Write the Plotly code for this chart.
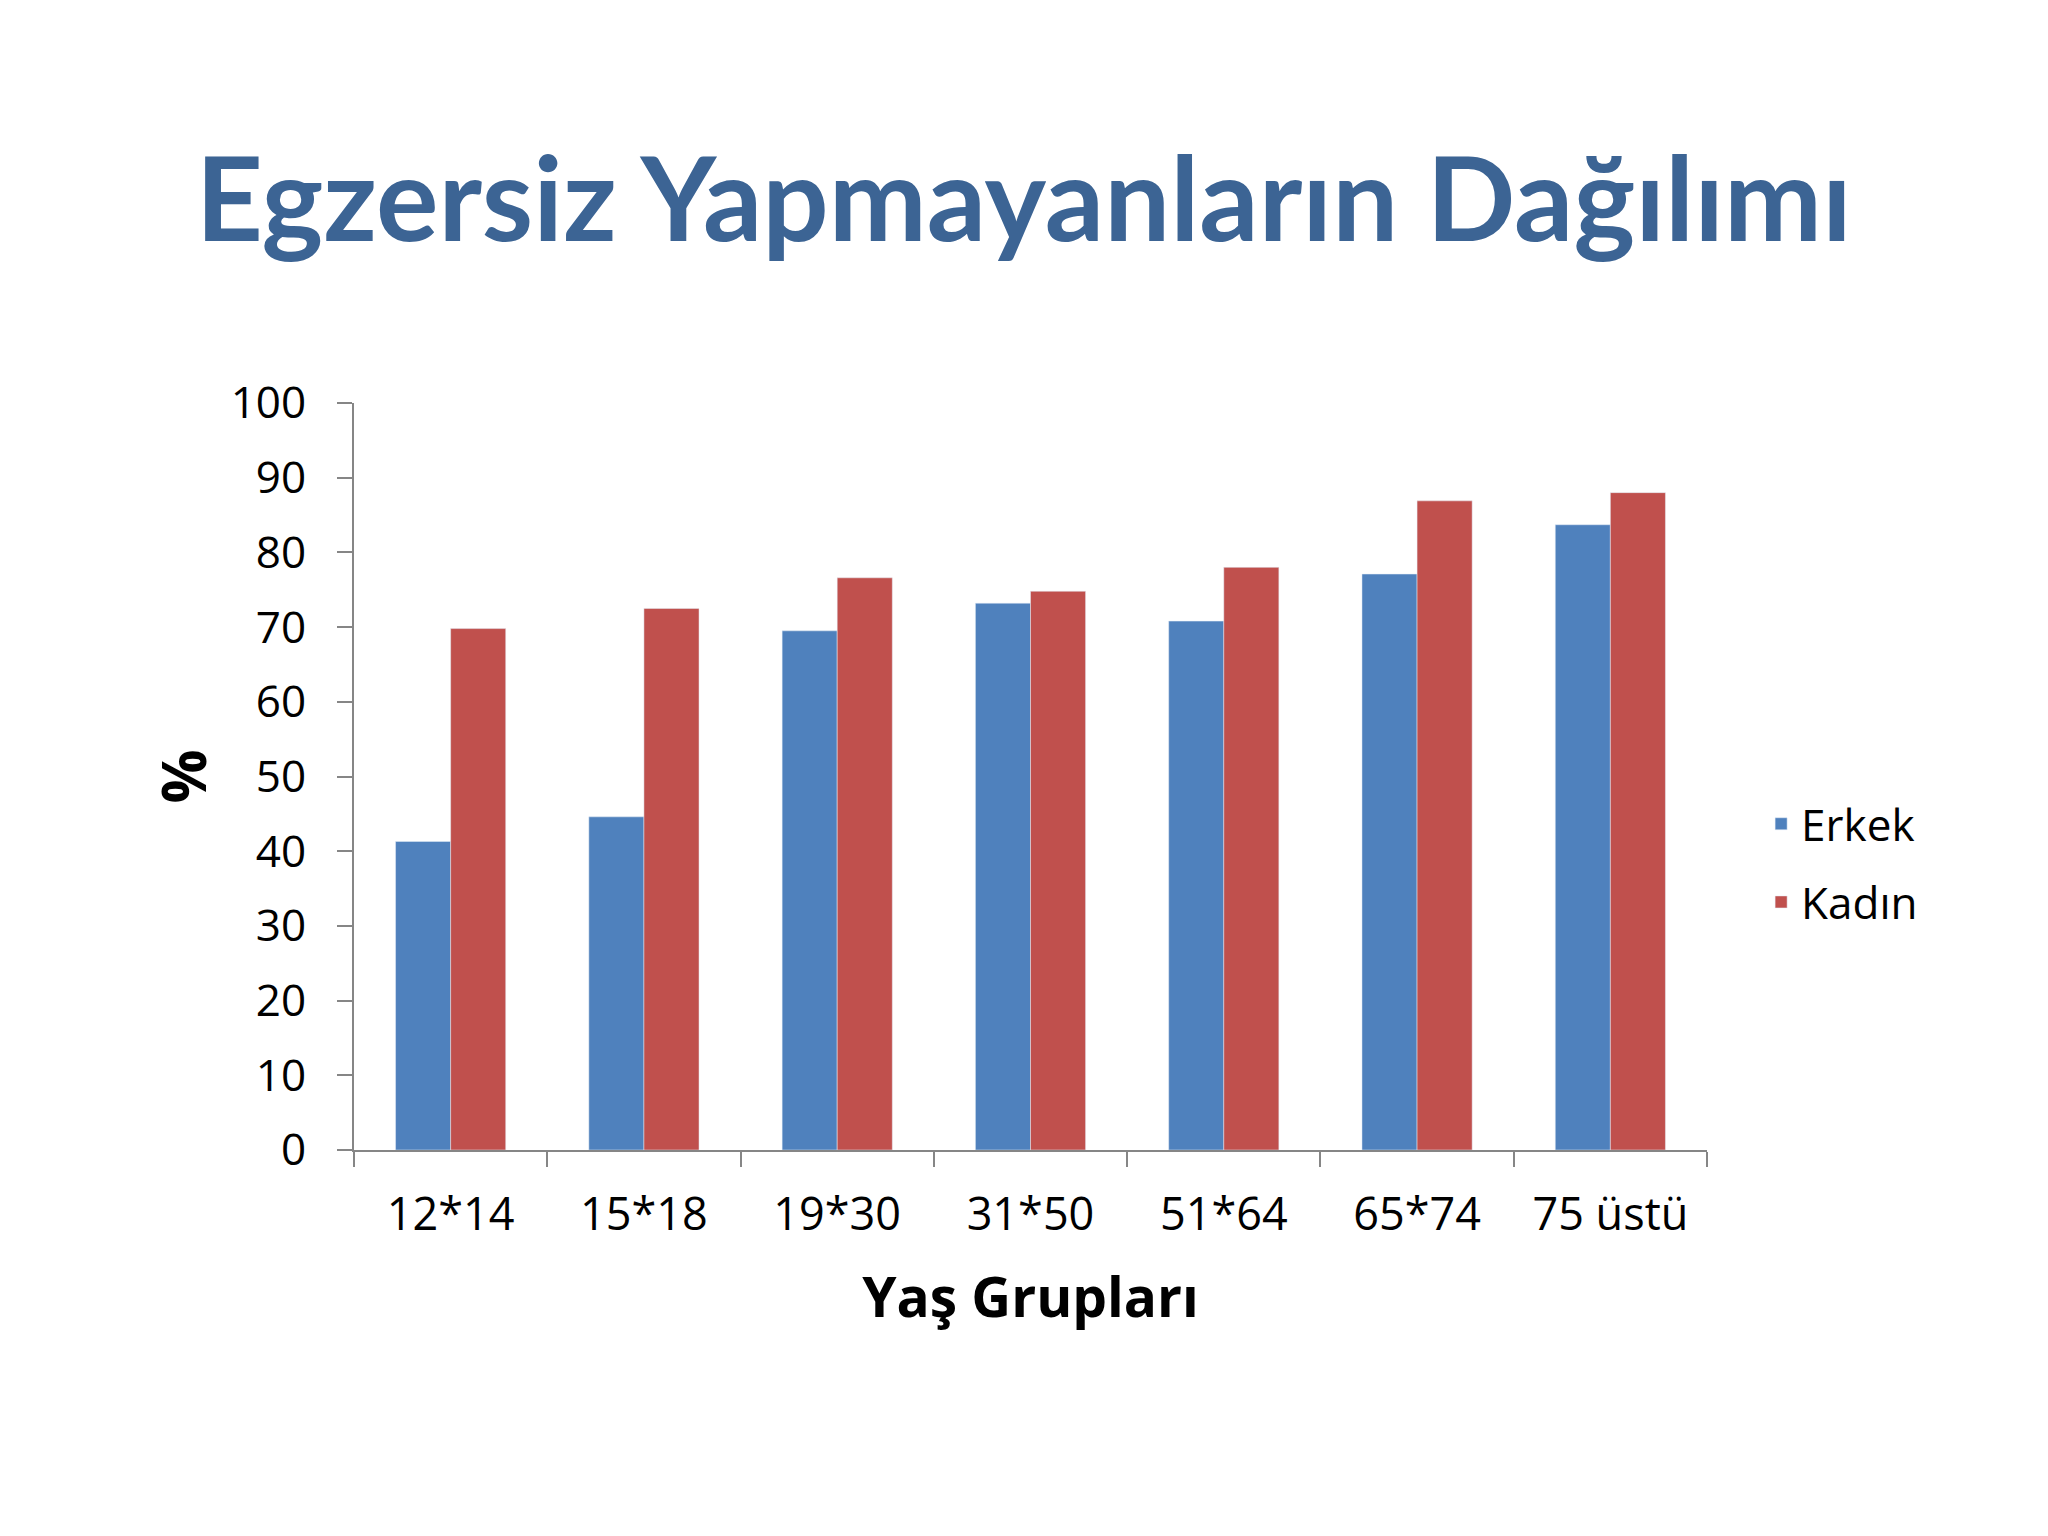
import plotly.graph_objects as go

# age groups and percentages of people who do not exercise
yas_gruplari = ["12*14", "15*18", "19*30", "31*50", "51*64", "65*74", "75 üstü"]
erkek = [41.3, 44.6, 69.5, 73.2, 70.8, 77.1, 83.7]
kadin = [69.8, 72.5, 76.6, 74.8, 78.0, 86.9, 88.0]
y_ticks = [0, 10, 20, 30, 40, 50, 60, 70, 80, 90, 100]

FONT = "Open Sans"

fig = go.Figure()

fig.add_trace(
    go.Bar(
        x=yas_gruplari,
        y=erkek,
        name="Erkek",
        marker_color="#4F81BD",
        legendgroup="erkek",
    )
)
fig.add_trace(
    go.Bar(
        x=yas_gruplari,
        y=kadin,
        name="Kadın",
        marker_color="#C0504D",
        legendgroup="kadin",
    )
)

fig.update_layout(
    width=2048,
    height=1536,
    paper_bgcolor="#FFFFFF",
    plot_bgcolor="#FFFFFF",
    barmode="group",
    bargap=0.43,
    bargroupgap=0,
    margin=dict(l=346, r=349, t=395, b=394, autoexpand=False),
    title=dict(
        text="<b>Egzersiz Yapmayanların Dağılımı</b>",
        x=0.496,
        xanchor="center",
        yref="container",
        y=1 - 192 / 1536,
        yanchor="middle",
        font=dict(family="Lato", size=117, color="#3C6494"),
    ),
    xaxis=dict(
        type="category",
        showline=True,
        linecolor="#868686",
        linewidth=2,
        ticks="outside",
        tickson="boundaries",
        ticklen=15,
        tickwidth=2,
        tickcolor="#868686",
        ticklabelstandoff=24,
        tickfont=dict(family=FONT, size=45, color="#000000"),
        showgrid=False,
        title=dict(
            text="<b>Yaş Grupları</b>",
            font=dict(family=FONT, size=55, color="#000000"),
            standoff=36,
        ),
    ),
    yaxis=dict(
        range=[0, 100],
        tickvals=y_ticks,
        showline=True,
        linecolor="#868686",
        linewidth=2,
        ticks="outside",
        ticklen=15,
        tickwidth=2,
        tickcolor="#868686",
        ticklabelstandoff=22,
        tickfont=dict(family=FONT, size=44, color="#000000"),
        showgrid=False,
        zeroline=False,
        title=dict(
            text="<b>%</b>",
            font=dict(family=FONT, size=60, color="#000000"),
            standoff=5,
        ),
    ),
    legend=dict(
        x=1.04,
        xanchor="left",
        y=0.384,
        yanchor="middle",
        font=dict(family=FONT, size=44, color="#000000"),
        tracegroupgap=18,
        traceorder="grouped",
    ),
)

fig.write_html("out.html")
